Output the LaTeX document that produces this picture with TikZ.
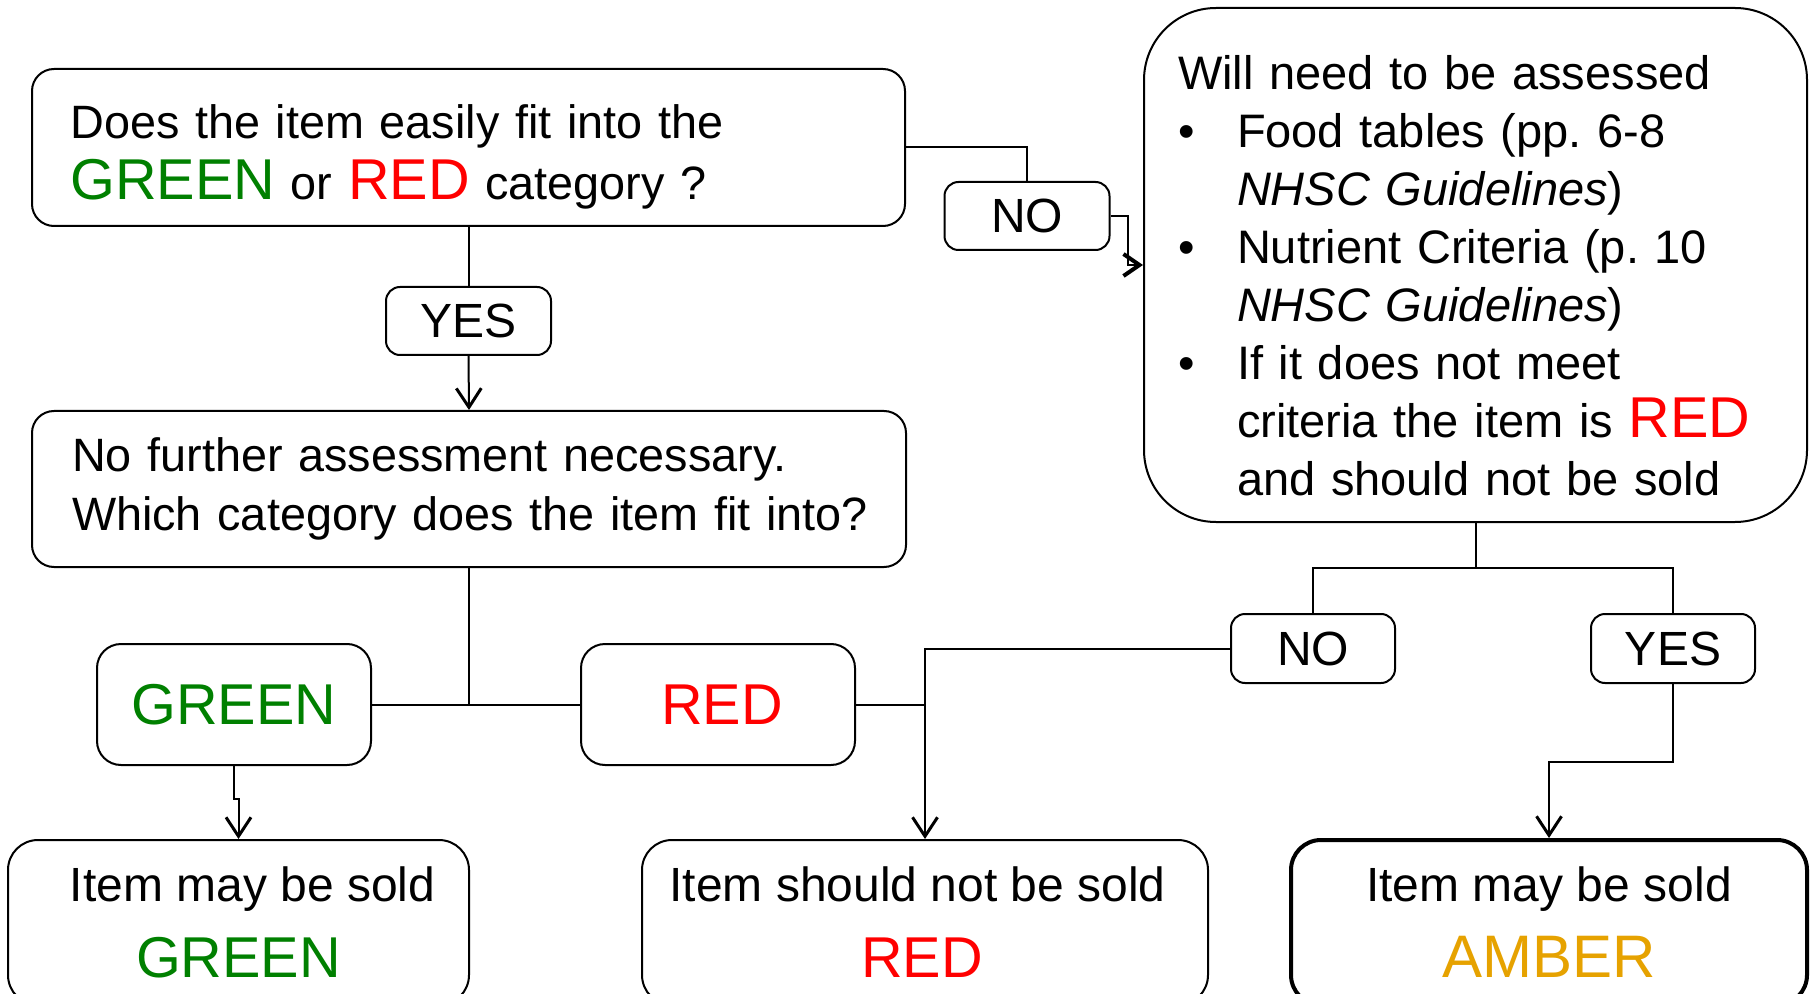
\documentclass[tikz,border=0pt]{standalone}
\usepackage{fontspec}
\setmainfont{Liberation Sans}
\usetikzlibrary{arrows.meta}
\definecolor{cgreen}{RGB}{0,128,0}
\definecolor{cred}{RGB}{255,0,0}
\definecolor{camber}{RGB}{230,162,0}
\newcommand{\gw}[1]{{\fontsize{28.8}{30}\selectfont\color{cgreen}#1}}
\newcommand{\rw}[1]{{\fontsize{28.8}{30}\selectfont\color{cred}#1}}
\newcommand{\aw}[1]{{\fontsize{30}{30}\selectfont\color{camber}#1}}
\newcommand{\bul}{\makebox[29.5pt][l]{•}}
\newcommand{\ind}{\hspace*{29.5pt}}
\frenchspacing
\begin{document}
\begin{tikzpicture}[x=0.5pt,y=-0.5pt,
  box/.style={draw, rounded corners=#1, line width=1pt, inner sep=0pt,
    font=\fontsize{24}{29.5}\selectfont\frenchspacing},
  box/.default=10pt,
  qbox/.style={box=11pt, font=\fontsize{23.4}{29.5}\selectfont\frenchspacing},
  lbl/.style={box=7pt, minimum width=82.5pt, minimum height=34pt},
  conn/.style={line width=1pt},
  arr/.style={conn, -{Straight Barb[length=9.5pt,width=12.5pt,line width=1.5pt]}},
  barr/.style={conn, -{Straight Barb[length=8pt,width=11pt,line width=2pt]}}
]
\clip (0,0) rectangle (1814,994);
\fill[white] (0,0) rectangle (1814,994);

\node[qbox, text width=400pt, inner xsep=18.25pt, minimum height=78.5pt, align=left]
  (q1) at (468.5,147.5) {\rule{0pt}{26pt}\hspace*{1pt}Does the item easily fit into the\\[1pt]\hspace*{1pt}\gw{GREEN} or \rw{RED} category ?};
\node[lbl] (no1) at (1027,216) {NO};
\node[box=36pt, text width=297.5pt, inner xsep=17pt, minimum height=257pt, align=left,
  font=\fontsize{23.5}{29}\selectfont\frenchspacing]
  (rb) at (1475.5,265) {\rule{0pt}{27.5pt}Will need to be assessed\\
  \bul Food tables (pp. 6-8\\
  \ind\textit{NHSC Guidelines})\\
  \bul Nutrient Criteria (p. 10\\
  \ind\textit{NHSC Guidelines})\\
  \bul If it does not meet\\
  \ind criteria the item is \rw{RED}\\
  \ind and should not be sold};
\node[lbl] (yes1) at (468.5,321) {YES};
\node[qbox, text width=400pt, inner xsep=18.5pt, minimum height=78pt, align=left]
  (q2) at (469,489) {\hspace*{1.5pt}No further assessment necessary.\\\hspace*{1.5pt}Which category does the item fit into?};
\node[box=12pt, minimum width=137pt, minimum height=60.5pt] (green) at (234,704.5) {\gw{GREEN}};
\node[box=12pt, minimum width=137pt, minimum height=60.5pt] (red) at (718,704.5) {\hspace*{4pt}\rw{RED}};
\node[lbl, minimum width=82pt, minimum height=34.5pt] (no2) at (1313,648.5) {NO};
\node[lbl, minimum width=82pt, minimum height=34.5pt] (yes2) at (1673,648.5) {YES};
\node[box=15pt, minimum width=230.5pt, minimum height=82.5pt, align=center]
  (bl) at (238.5,922.5) {\hspace*{14pt}Item may be sold\\[8.5pt]\gw{GREEN}};
\node[box=15pt, minimum width=283pt, minimum height=82.5pt, align=center]
  (bm) at (925,922.5) {\hspace*{-7.5pt}Item should not be sold\\[8.5pt]\hspace*{-3pt}\rw{RED}};
\node[box=15pt, line width=2pt, minimum width=258pt, minimum height=82.5pt, align=center]
  (br) at (1549,922.5) {Item may be sold\\[8.5pt]\aw{AMBER}};

% connectors
\draw[conn] (q1.east) -| (no1.north);
\draw[barr] (no1.east) -- ++(17,0) |- (rb.west);
\draw[conn] (q1.south) -- (yes1.north);
\draw[arr] (yes1.south) -- (q2.north);
\draw[conn] (q2.south) -- (q2.south |- green.east);
\draw[conn] (green.east) -- (red.west);
\draw[arr] (green.south) -- ++(0,33) -| (bl.north);
\draw[conn] (red.east) -- (red.east -| bm.north);
\draw[arr] (no2.west) -| (bm.north);
\draw[conn] (rb.south) -- ++(0,45) coordinate (split);
\draw[conn] (no2.north) |- (split) -| (yes2.north);
\draw[arr] (yes2.south) -- ++(0,78) -| (br.north);
\end{tikzpicture}
\end{document}
